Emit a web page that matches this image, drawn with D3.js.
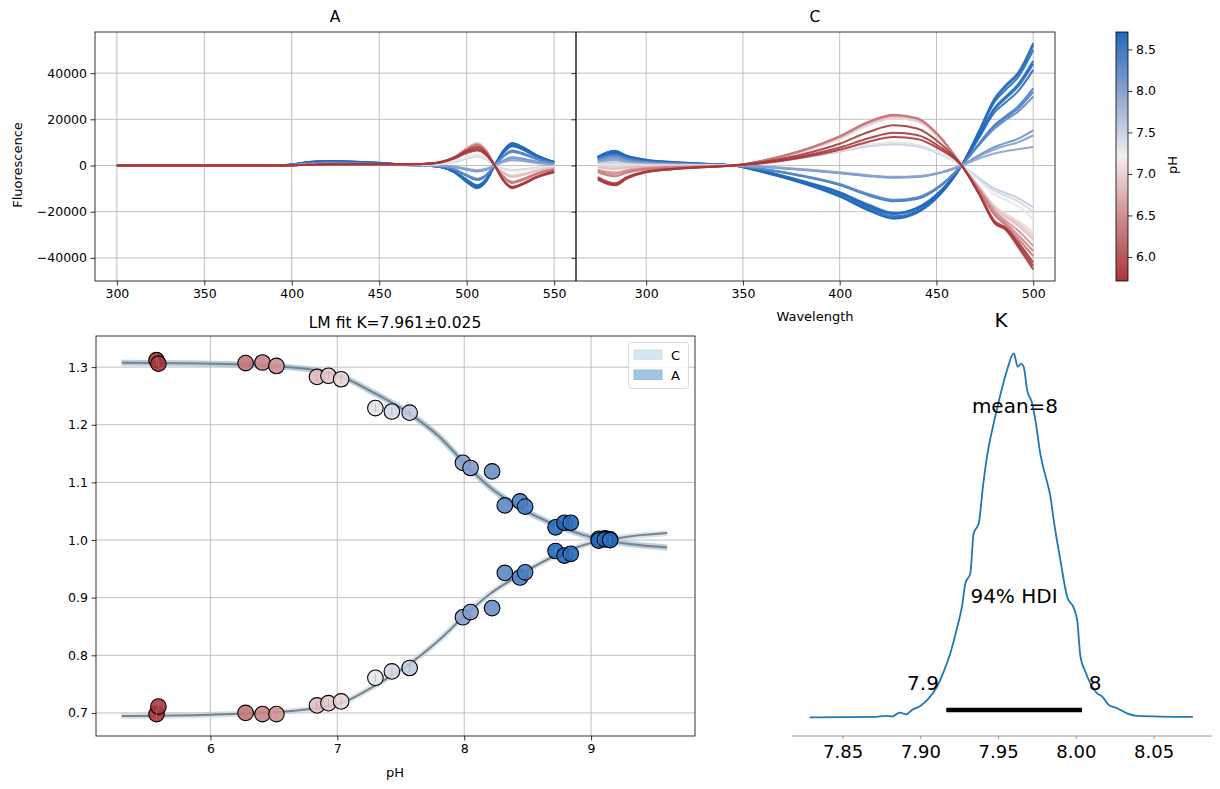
<!DOCTYPE html>
<html>
<head>
<meta charset="utf-8">
<script src="https://cdn.jsdelivr.net/npm/d3@7"></script>
<style>
  body { margin: 0; background: #fff; }
  svg { font-family: "DejaVu Sans", sans-serif; }
</style>
</head>
<body>
<svg id="chart" width="1220" height="789"></svg>
<script>
// ---- data ----
const samplePH = [9.15, 9.11, 9.06, 8.84, 8.79, 8.72, 8.48, 8.44, 8.32, 8.22, 8.05, 7.99,
                  7.57, 7.43, 7.30, 7.03, 6.93, 6.84, 6.52, 6.41, 6.28, 5.60, 5.59, 5.58];

const wlA = [300, 350, 395, 410, 420, 440, 460, 475, 485, 493, 500, 506, 511, 516, 521, 526, 532, 540, 550];
const spectraA = [
  [0, 0, 100, 1500, 1900, 1500, 700, 0, -700, -3000, -7200, -9800, -7000, 0, 6500, 9700, 8000, 4500, 1500],
  [0, 0, 100, 1500, 1900, 1500, 700, 0, -700, -2900, -7000, -9600, -6800, 0, 6300, 9500, 7800, 4400, 1500],
  [0, 0, 100, 1400, 1800, 1400, 650, 0, -650, -2800, -6800, -9300, -6600, 0, 6100, 9200, 7600, 4300, 1450],
  [0, 0, 100, 1300, 1700, 1300, 600, 0, -600, -2700, -6500, -9000, -6400, 0, 5900, 8900, 7300, 4100, 1400],
  [0, 0, 100, 1300, 1700, 1300, 600, 0, -600, -2600, -6300, -8800, -6200, 0, 5700, 8600, 7100, 4000, 1350],
  [0, 0, 100, 1200, 1600, 1200, 550, 0, -550, -2500, -6100, -8500, -6000, 0, 5500, 8300, 6900, 3900, 1300],
  [0, 0, 100, 1000, 1300, 1000, 450, 0, -400, -1800, -4500, -6300, -4500, 0, 4200, 6500, 5400, 3000, 1000],
  [0, 0, 80, 950, 1250, 950, 430, 0, -380, -1700, -4300, -6000, -4300, 0, 4000, 6200, 5100, 2900, 950],
  [0, 0, 80, 900, 1200, 900, 400, 0, -350, -1600, -4100, -5700, -4100, 0, 3800, 5900, 4900, 2700, 900],
  [0, 0, 60, 700, 900, 700, 300, 0, -150, -700, -1800, -2600, -1900, 0, 2200, 3600, 3000, 1700, 500],
  [0, 0, 50, 600, 800, 600, 250, 0, -130, -600, -1600, -2300, -1700, 0, 1900, 3000, 2500, 1400, 400],
  [0, 0, 50, 500, 700, 550, 200, 0, -100, -500, -1400, -2000, -1400, 0, 1500, 2300, 1900, 1100, 300],
  [0, 0, 30, 300, 400, 350, 250, 200, 500, 1500, 3000, 4000, 2800, 0, -1400, -2000, -1700, -1000, -400],
  [0, 0, 30, 300, 400, 350, 250, 250, 550, 1600, 3200, 4300, 3000, 0, -1500, -2200, -1800, -1100, -450],
  [0, 0, 30, 300, 400, 350, 250, 250, 600, 1700, 3400, 4600, 3200, 0, -1600, -2400, -2000, -1200, -500],
  [0, 0, 20, 300, 400, 400, 350, 500, 1300, 3500, 7000, 9200, 6300, 0, -2900, -4300, -3600, -2100, -900],
  [0, 0, 20, 300, 400, 400, 350, 500, 1350, 3600, 7300, 9500, 6500, 0, -3100, -4600, -3800, -2200, -1000],
  [0, 0, 20, 300, 400, 400, 350, 550, 1400, 3700, 7500, 9700, 6700, 0, -3300, -5000, -4100, -2400, -1100],
  [0, 0, 20, 300, 400, 400, 400, 600, 1400, 3600, 7200, 9200, 6400, 0, -4700, -7000, -5800, -3400, -1500],
  [0, 0, 20, 300, 400, 400, 400, 600, 1400, 3600, 7000, 9000, 6300, 0, -4900, -7300, -6000, -3500, -1600],
  [0, 0, 20, 300, 400, 400, 400, 600, 1400, 3500, 6900, 8800, 6100, 0, -5100, -7600, -6300, -3700, -1700],
  [0, 0, 0, 300, 500, 500, 500, 700, 1500, 3500, 6400, 8000, 5600, 0, -6300, -9200, -7800, -4800, -2600],
  [0, 0, 0, 300, 500, 500, 500, 700, 1400, 3200, 5900, 7200, 5100, 0, -6400, -9500, -8000, -5000, -2800],
  [0, 0, 0, 300, 500, 500, 500, 650, 1300, 3000, 5400, 6500, 4600, 0, -6600, -9800, -8200, -5200, -2900]
];

const wlC = [275, 280, 284, 290, 300, 320, 345, 360, 380, 400, 415, 428, 440, 452, 463, 472, 480, 486, 492, 500];
const spectraC = [
  [3800, 5800, 6400, 4200, 2500, 1200, 0, -2800, -7500, -13500, -19500, -23000, -20500, -12500, 0, 15000, 29000, 35000, 40000, 53000],
  [3700, 5600, 6200, 4100, 2400, 1150, 0, -2700, -7300, -13200, -19200, -22700, -20200, -12300, 0, 14700, 28500, 34300, 39300, 52000],
  [3500, 5400, 6000, 4000, 2300, 1100, 0, -2600, -7000, -12800, -18500, -22000, -19600, -12000, 0, 14200, 27500, 33000, 38000, 50000],
  [3300, 5000, 5600, 3700, 2100, 1000, 0, -2500, -6800, -12000, -17800, -21000, -18800, -11400, 0, 13000, 25000, 30000, 35000, 45300],
  [3200, 4900, 5400, 3600, 2000, 1000, 0, -2400, -6700, -11800, -17500, -20800, -18500, -11200, 0, 12600, 24300, 29200, 34000, 44000],
  [3000, 4600, 5100, 3400, 1900, 900, 0, -2300, -6500, -11500, -17000, -20500, -18200, -11000, 0, 12000, 23000, 27500, 32000, 41400],
  [2800, 4200, 4600, 3000, 1700, 800, 0, -1600, -4500, -8500, -13000, -15500, -14500, -9000, 0, 9500, 17500, 21500, 25500, 33400],
  [2700, 4000, 4400, 2900, 1600, 750, 0, -1550, -4400, -8300, -12700, -15200, -14200, -8800, 0, 9200, 17000, 20800, 24500, 31900],
  [2500, 3700, 4100, 2700, 1500, 700, 0, -1500, -4200, -8000, -12300, -14800, -13800, -8600, 0, 8800, 16000, 19800, 23200, 29800],
  [2000, 3000, 3300, 2200, 1200, 500, 0, -600, -1800, -3300, -4600, -5300, -5000, -3200, 0, 4500, 8000, 9800, 11500, 15200],
  [1700, 2600, 2900, 1900, 1000, 400, 0, -550, -1700, -3100, -4400, -5100, -4800, -3100, 0, 4000, 7000, 8600, 10000, 13100],
  [1400, 2100, 2300, 1500, 800, 300, 0, -500, -1500, -2900, -4200, -4900, -4600, -3000, 0, 3000, 5200, 6300, 7000, 8000],
  [800, 1200, 1300, 800, 400, 200, 0, 1000, 3300, 6000, 8300, 9200, 8300, 4800, 0, -5500, -10000, -12000, -14000, -18200],
  [500, 800, 900, 500, 200, 100, 0, 1100, 3500, 6300, 8700, 9600, 8700, 5000, 0, -6000, -11000, -13200, -15400, -20000],
  [200, 300, 300, 200, 0, 0, 0, 1200, 3700, 6600, 9100, 10000, 9100, 5300, 0, -6500, -12500, -15000, -17500, -23200],
  [-200, -300, -400, -300, -200, -100, 0, 1800, 5800, 11500, 17500, 20500, 19000, 11500, 0, -9000, -17500, -21000, -24000, -29000],
  [-500, -800, -900, -600, -400, -200, 0, 1900, 6000, 12000, 18000, 21000, 19500, 11800, 0, -9300, -18000, -21800, -25000, -30500],
  [-900, -1300, -1500, -1000, -600, -300, 0, 2000, 6200, 12300, 18500, 21500, 20000, 12000, 0, -9600, -18500, -22500, -26000, -32000],
  [-1800, -2700, -3000, -2000, -1100, -500, 0, 2000, 6300, 12500, 18800, 21800, 20300, 12200, 0, -10000, -19500, -24000, -28000, -34800],
  [-2300, -3400, -3800, -2500, -1400, -600, 0, 2000, 6300, 12500, 18800, 21800, 20300, 12200, 0, -10500, -20500, -25000, -30000, -37000],
  [-2800, -4200, -4700, -3100, -1700, -800, 0, 2100, 6400, 12700, 19000, 22000, 20500, 12300, 0, -11000, -21500, -26000, -31500, -39200],
  [-5000, -7000, -7700, -5000, -2600, -1100, 0, 1500, 4700, 9400, 14500, 17400, 16000, 9500, 0, -12000, -24000, -27000, -33000, -42000],
  [-5500, -7600, -8200, -5400, -2800, -1200, 0, 1200, 3900, 7800, 11800, 14200, 13200, 7900, 0, -12200, -24500, -27500, -34000, -43500],
  [-6100, -8000, -8600, -5700, -2900, -1200, 0, 1000, 3400, 6800, 10300, 12300, 11500, 6900, 0, -12500, -25000, -28000, -35000, -45000]
];

const scatterPH = [5.575, 5.59, 6.277, 6.41, 6.52, 6.84, 6.93, 7.03, 7.30, 7.43, 7.57, 7.99, 8.05, 8.22,
                   8.32, 8.44, 8.48, 8.72, 8.79, 8.84, 9.06, 9.11, 9.15];
const ratioUpper = [1.312, 1.306, 1.307, 1.308, 1.302, 1.283, 1.285, 1.279, 1.229, 1.223, 1.221, 1.134, 1.125, 1.119,
                    1.060, 1.067, 1.058, 1.022, 1.030, 1.030, 1.002, 1.003, 1.001];
const ratioLower = [0.698, 0.711, 0.700, 0.698, 0.698, 0.713, 0.717, 0.720, 0.761, 0.772, 0.778, 0.866, 0.875, 0.882,
                    0.943, 0.935, 0.944, 0.981, 0.973, 0.976, 0.999, 1.001, 1.000];

const fitPH    = [5.3, 6.0, 6.5, 7.0, 7.3, 7.55, 7.8, 8.0, 8.2, 8.45, 8.7, 9.0, 9.3, 9.6];
const fitUpper = [1.3075, 1.306, 1.302, 1.286, 1.254, 1.222, 1.180, 1.134, 1.092, 1.055, 1.028, 1.005, 0.993, 0.987];
const fitLower = [0.6945, 0.697, 0.701, 0.715, 0.748, 0.782, 0.826, 0.868, 0.906, 0.941, 0.971, 0.995, 1.006, 1.012];

const kdeK = [7.8288, 7.870, 7.8785, 7.8818, 7.887, 7.891, 7.8946, 7.900, 7.9054, 7.9107, 7.915, 7.9193, 7.9236,
              7.9268, 7.929, 7.9322, 7.9343, 7.9376, 7.9403, 7.9429, 7.9472, 7.9515, 7.9558, 7.9601, 7.9627, 7.9648,
              7.9665, 7.9687, 7.9719, 7.974, 7.9773, 7.9815, 7.9837, 7.9858, 7.9901, 7.9944, 7.9987, 8.0009, 8.003,
              8.0062, 8.0094, 8.0137, 8.017, 8.0212, 8.0266, 8.033, 8.0395, 8.0753];
const kdeD = [0, 0.001, 0.004, 0.002, 0.013, 0.008, 0.020, 0.031, 0.052, 0.084, 0.125, 0.176, 0.245,
              0.304, 0.368, 0.396, 0.505, 0.533, 0.634, 0.716, 0.808, 0.886, 0.954, 1.0, 0.963, 0.971,
              0.963, 0.899, 0.863, 0.817, 0.721, 0.647, 0.606, 0.542, 0.432, 0.332, 0.300, 0.267, 0.167,
              0.125, 0.093, 0.066, 0.057, 0.034, 0.025, 0.011, 0.004, 0.001];
const hdi = [7.9167, 8.004];

const fluoTicks = [-40000, -20000, 0, 20000, 40000];
const wlTicksA = [300, 350, 400, 450, 500, 550];
const wlTicksC = [300, 350, 400, 450, 500];
const cbarTicks = [6.0, 6.5, 7.0, 7.5, 8.0, 8.5];
const phTicks = [6, 7, 8, 9];
const ratioTicks = [0.7, 0.8, 0.9, 1.0, 1.1, 1.2, 1.3];
const kTicks = [7.85, 7.90, 7.95, 8.00, 8.05];

// ---- setup ----
const svg = d3.select("#chart");
const GRID = "#b0b0b0";
const TICK = 4.5;

const color = d3.scaleLinear()
  .domain([5.71, 6.46, 7.21, 7.96, 8.71])
  .range(["#a9373b", "#cf8a8c", "#f3eeef", "#8ea4cf", "#2369bd"])
  .interpolate(d3.interpolateRgb)
  .clamp(true);

function styleAxis(g, size) {
  g.select(".domain").remove();
  g.selectAll(".tick line").attr("stroke", "#000").attr("stroke-width", 0.8);
  g.selectAll(".tick text").attr("fill", "#000").attr("font-size", size)
    .attr("font-family", "DejaVu Sans, sans-serif");
}

function grid(g, x, y, xt, yt) {
  const [x0, x1] = x.range(), [y0, y1] = y.range();
  g.append("g").selectAll("line").data(xt).join("line")
    .attr("x1", d => x(d)).attr("x2", d => x(d)).attr("y1", y0).attr("y2", y1)
    .attr("stroke", GRID).attr("stroke-width", 0.8);
  g.append("g").selectAll("line").data(yt).join("line")
    .attr("x1", x0).attr("x2", x1).attr("y1", d => y(d)).attr("y2", d => y(d))
    .attr("stroke", GRID).attr("stroke-width", 0.8);
}

function frame(g, x, y) {
  const [x0, x1] = x.range(), [y0, y1] = y.range();
  g.append("rect").attr("x", x0).attr("y", y1).attr("width", x1 - x0).attr("height", y0 - y1)
    .attr("fill", "none").attr("stroke", "#000").attr("stroke-width", 0.8);
}

function clip(id, x, y) {
  const [x0, x1] = x.range(), [y0, y1] = y.range();
  svg.append("clipPath").attr("id", id).append("rect")
    .attr("x", x0).attr("y", y1).attr("width", x1 - x0).attr("height", y0 - y1);
}

// ---- top spectra panels ----
const yF = d3.scaleLinear().domain([-50000, 57800]).range([281, 32]);
const xA = d3.scaleLinear().domain([287.5, 562.5]).range([95, 576]);
const xC = d3.scaleLinear().domain([263.75, 511.25]).range([576, 1055]);

function spectraPanel(x, wl, spectra, xt, id, showYLabels) {
  const g = svg.append("g");
  clip(id, x, yF);
  grid(g, x, yF, xt, fluoTicks);
  const line = d3.line().x((d, i) => x(wl[i])).y(d => yF(d)).curve(d3.curveMonotoneX);
  g.append("g").attr("clip-path", `url(#${id})`)
    .selectAll("path").data(spectra).join("path")
    .attr("d", d => line(d))
    .attr("fill", "none")
    .attr("stroke", (d, i) => color(samplePH[i]))
    .attr("stroke-width", 2)
    .attr("stroke-opacity", 0.9);
  frame(g, x, yF);
  const ax = g.append("g").attr("transform", `translate(0,${yF.range()[0]})`)
    .call(d3.axisBottom(x).tickValues(xt).tickFormat(d3.format("d")).tickSize(TICK).tickPadding(3.5));
  styleAxis(ax, 12.5);
  const ay = g.append("g").attr("transform", `translate(${x.range()[0]},0)`)
    .call(d3.axisLeft(yF).tickValues(fluoTicks).tickFormat(showYLabels ? d3.format("d") : () => "")
      .tickSize(TICK).tickPadding(3.5));
  styleAxis(ay, 12.5);
  return g;
}

spectraPanel(xA, wlA, spectraA, wlTicksA, "clipA", true);
spectraPanel(xC, wlC, spectraC, wlTicksC, "clipC", false);

svg.append("text").attr("x", 335).attr("y", 17).attr("dy", "0.35em").attr("text-anchor", "middle")
  .attr("font-size", 15.5).text("A");
svg.append("text").attr("x", 815).attr("y", 17).attr("dy", "0.35em").attr("text-anchor", "middle")
  .attr("font-size", 15.5).text("C");
svg.append("text").attr("transform", "translate(17,165) rotate(-90)").attr("dy", "0.35em")
  .attr("text-anchor", "middle").attr("font-size", 13).text("Fluorescence");
svg.append("text").attr("x", 815).attr("y", 316).attr("dy", "0.35em").attr("text-anchor", "middle")
  .attr("font-size", 13).text("Wavelength");

// ---- colorbar ----
const yCb = d3.scaleLinear().domain([5.71, 8.71]).range([281, 32]);
const grad = svg.append("defs").append("linearGradient").attr("id", "cbgrad")
  .attr("x1", 0).attr("y1", 1).attr("x2", 0).attr("y2", 0);
grad.selectAll("stop").data(d3.range(0, 1.0001, 0.05)).join("stop")
  .attr("offset", d => d)
  .attr("stop-color", d => color(5.71 + d * 3));
svg.append("rect").attr("x", 1116).attr("y", 32).attr("width", 12).attr("height", 249)
  .attr("fill", "url(#cbgrad)").attr("stroke", "#000").attr("stroke-width", 0.8);
const acb = svg.append("g").attr("transform", "translate(1128,0)")
  .call(d3.axisRight(yCb).tickValues(cbarTicks).tickFormat(d3.format(".1f")).tickSize(TICK).tickPadding(3.5));
styleAxis(acb, 12.5);
svg.append("text").attr("transform", "translate(1172,165) rotate(-90)").attr("dy", "0.35em")
  .attr("text-anchor", "middle").attr("font-size", 13).text("pH");

// ---- LM fit panel ----
const xP = d3.scaleLinear().domain([5.098, 9.819]).range([96, 695]);
const yP = d3.scaleLinear().domain([0.660, 1.354]).range([736, 336]);
{
  const g = svg.append("g");
  clip("clipP", xP, yP);
  grid(g, xP, yP, phTicks, ratioTicks);
  const pg = g.append("g").attr("clip-path", "url(#clipP)");
  const fline = vals => d3.line().x((d, i) => xP(fitPH[i])).y(d => yP(d)).curve(d3.curveMonotoneX)(vals);
  pg.append("path").attr("d", fline(fitUpper)).attr("fill", "none")
    .attr("stroke", "#7fb1d6").attr("stroke-width", 6).attr("stroke-opacity", 0.6);
  pg.append("path").attr("d", fline(fitLower)).attr("fill", "none")
    .attr("stroke", "#b3d4ea").attr("stroke-width", 6).attr("stroke-opacity", 0.6);
  pg.append("path").attr("d", fline(fitUpper)).attr("fill", "none")
    .attr("stroke", "#808080").attr("stroke-width", 2);
  pg.append("path").attr("d", fline(fitLower)).attr("fill", "none")
    .attr("stroke", "#808080").attr("stroke-width", 2);

  for (const vals of [ratioUpper, ratioLower]) {
    const pts = scatterPH.map((p, i) => ({ p, v: vals[i] }));
    pg.append("g").selectAll("circle").data(pts).join("circle")
      .attr("cx", d => xP(d.p)).attr("cy", d => yP(d.v)).attr("r", 7.8)
      .attr("fill", d => color(d.p)).attr("fill-opacity", 0.9)
      .attr("stroke", "#000").attr("stroke-width", 1.1);
    pg.append("g").selectAll("line").data(pts).join("line")
      .attr("x1", d => xP(d.p)).attr("x2", d => xP(d.p))
      .attr("y1", d => yP(d.v + 0.007)).attr("y2", d => yP(d.v - 0.007))
      .attr("stroke", "#999").attr("stroke-opacity", 0.5).attr("stroke-width", 1);
  }
  frame(g, xP, yP);
  const ax = g.append("g").attr("transform", "translate(0,736)")
    .call(d3.axisBottom(xP).tickValues(phTicks).tickFormat(d3.format("d")).tickSize(TICK).tickPadding(3.5));
  styleAxis(ax, 12.5);
  const ay = g.append("g").attr("transform", "translate(96,0)")
    .call(d3.axisLeft(yP).tickValues(ratioTicks).tickFormat(d3.format(".1f")).tickSize(TICK).tickPadding(3.5));
  styleAxis(ay, 12.5);

  // legend
  const lg = g.append("g");
  lg.append("rect").attr("x", 628.5).attr("y", 342.5).attr("width", 60).attr("height", 46).attr("rx", 3)
    .attr("fill", "#fff").attr("fill-opacity", 0.8).attr("stroke", "#d0d0d0").attr("stroke-width", 0.8);
  const leg = [{ name: "C", fill: "#d5e7f1" }, { name: "A", fill: "#a0c6e0" }];
  lg.selectAll("g.item").data(leg).join("g").attr("class", "item").each(function (d, i) {
    const it = d3.select(this);
    it.append("rect").attr("x", 634).attr("y", 350 + i * 20).attr("width", 28).attr("height", 9.5)
      .attr("fill", d.fill).attr("stroke", i ? "#8bb7d6" : "#c6dfec").attr("stroke-width", 0.8);
    it.append("text").attr("x", 671).attr("y", 355 + i * 20).attr("dy", "0.35em")
      .attr("font-size", 13).text(d.name);
  });
}
svg.append("text").attr("x", 395).attr("y", 323).attr("dy", "0.35em").attr("text-anchor", "middle")
  .attr("font-size", 15.5).text("LM fit K=7.961±0.025");
svg.append("text").attr("x", 395).attr("y", 772).attr("dy", "0.35em").attr("text-anchor", "middle")
  .attr("font-size", 13).text("pH");

// ---- posterior panel ----
const xK = d3.scaleLinear().domain([7.8175, 8.0876]).range([792, 1212]);
const yK = d3.scaleLinear().domain([0, 1]).range([717.3, 353.3]);
{
  const g = svg.append("g");
  g.append("line").attr("x1", 792).attr("x2", 1212).attr("y1", 736).attr("y2", 736)
    .attr("stroke", "#808080").attr("stroke-width", 0.8);
  const ax = g.append("g").attr("transform", "translate(0,736)")
    .call(d3.axisBottom(xK).tickValues(kTicks).tickFormat(d3.format(".2f")).tickSize(3).tickPadding(6));
  styleAxis(ax, 18);
  ax.selectAll(".tick line").attr("stroke", "#808080");

  const kde = d3.line().x(d => xK(d[0])).y(d => yK(d[1])).curve(d3.curveMonotoneX);
  g.append("path").attr("d", kde(kdeK.map((k, i) => [k, kdeD[i]])))
    .attr("fill", "none").attr("stroke", "#1f77b4").attr("stroke-width", 1.8);
  g.append("line").attr("x1", xK(hdi[0])).attr("x2", xK(hdi[1]))
    .attr("y1", yK(0.02)).attr("y2", yK(0.02)).attr("stroke", "#000").attr("stroke-width", 4.3);

  const t = (x, y, s, txt) => g.append("text").attr("x", x).attr("y", y).attr("dy", "0.35em")
    .attr("text-anchor", "middle").attr("font-size", s).text(txt);
  t(1001, 320, 20, "K");
  t(1015, 406, 20, "mean=8");
  t(1014, 596, 20, "94% HDI");
  t(923, 683, 20, "7.9");
  t(1095, 683, 20, "8");
}
</script>
</body>
</html>
